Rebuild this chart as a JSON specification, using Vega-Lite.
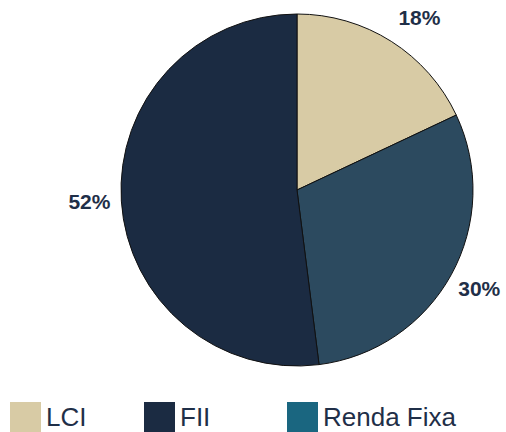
{
  "$schema": "https://vega.github.io/schema/vega-lite/v6.json",
  "width": 352,
  "height": 352,
  "autosize": "none",
  "padding": {"left": 121, "top": 14, "right": 33, "bottom": 66},
  "background": "white",
  "config": {"view": {"stroke": null}, "font": "Liberation Sans"},
  "data": {
    "values": [
      {"categoria": "LCI", "pct": 0.18},
      {"categoria": "Renda Fixa", "pct": 0.30},
      {"categoria": "FII", "pct": 0.52}
    ]
  },
  "layer": [
    {
      "mark": {"type": "arc", "outerRadius": 175},
      "encoding": {
        "theta": {"field": "pct", "type": "quantitative", "stack": true},
        "order": {"field": "pct", "type": "quantitative", "sort": "ascending"},
        "color": {
          "field": "categoria",
          "type": "nominal",
          "scale": {"domain": ["LCI", "FII", "Renda Fixa"], "range": ["#D8CBA5", "#1B2B42", "#1A6680"]},
          "legend": {
            "title": null,
            "orient": "none",
            "direction": "horizontal",
            "legendX": -111,
            "legendY": 388,
            "symbolType": "square",
            "symbolSize": 961,
            "symbolStrokeWidth": 0,
            "symbolOpacity": 1,
            "labelFont": "Liberation Sans",
            "labelFontSize": 26,
            "labelColor": "#1F2F48",
            "labelOffset": 5,
            "labelExpr": "datum.label == 'FII' ? 'FII\u2800' : datum.label",
            "columnPadding": 57,
            "padding": 0,
            "labelLimit": 300
          }
        }
      }
    },
    {
      "mark": {"type": "arc", "outerRadius": 176, "stroke": "#111111", "strokeWidth": 1},
      "encoding": {
        "theta": {"field": "pct", "type": "quantitative", "stack": true},
        "order": {"field": "pct", "type": "quantitative", "sort": "ascending"},
        "fill": {
          "field": "categoria",
          "type": "nominal",
          "scale": {"domain": ["LCI", "Renda Fixa", "FII"], "range": ["#D8CBA5", "#2C4A5F", "#1B2B42"]},
          "legend": null
        }
      }
    },
    {
      "mark": {"type": "text", "radius": 208, "font": "Liberation Sans", "fontSize": 21, "fontWeight": "bold", "color": "#1F2F48", "align": "center", "baseline": "middle"},
      "encoding": {
        "theta": {"field": "pct", "type": "quantitative", "stack": true},
        "order": {"field": "pct", "type": "quantitative", "sort": "ascending"},
        "text": {"field": "pct", "type": "quantitative", "format": ".0%"},
        "opacity": {"condition": {"test": "datum.categoria == 'LCI'", "value": 0}, "value": 1}
      }
    },
    {
      "mark": {"type": "text", "radius": 208, "dx": 11, "dy": 5, "font": "Liberation Sans", "fontSize": 21, "fontWeight": "bold", "color": "#1F2F48", "align": "center", "baseline": "middle"},
      "encoding": {
        "theta": {"field": "pct", "type": "quantitative", "stack": true},
        "order": {"field": "pct", "type": "quantitative", "sort": "ascending"},
        "text": {"field": "pct", "type": "quantitative", "format": ".0%"},
        "opacity": {"condition": {"test": "datum.categoria == 'LCI'", "value": 1}, "value": 0}
      }
    }
  ]
}
